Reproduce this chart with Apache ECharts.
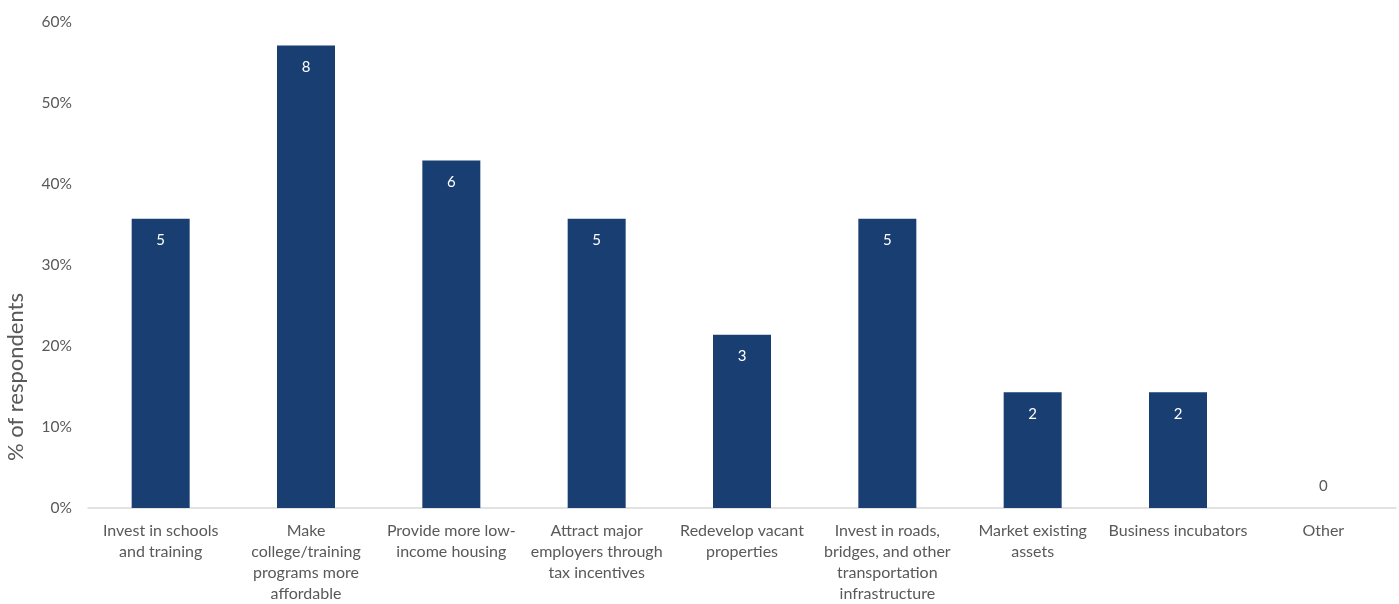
<!DOCTYPE html>
<html>
<head>
<meta charset="utf-8">
<script src="https://cdn.jsdelivr.net/npm/echarts@6/dist/echarts.min.js"></script>
<style>
html,body{margin:0;padding:0;background:#fff;}
#chart{width:1399px;height:604px;}
</style>
</head>
<body>
<div id="chart"></div>
<script>
var categories = [
  "Invest in schools\nand training",
  "Make\ncollege/training\nprograms more\naffordable",
  "Provide more low-\nincome housing",
  "Attract major\nemployers through\ntax incentives",
  "Redevelop vacant\nproperties",
  "Invest in roads,\nbridges, and other\ntransportation\ninfrastructure",
  "Market existing\nassets",
  "Business incubators",
  "Other"
];
var percentValues = [35.7, 57.1, 42.9, 35.7, 21.4, 35.7, 14.3, 14.3, 0];
var countLabels = [5, 8, 6, 5, 3, 5, 2, 2, 0];
var yTickMax = 60;
var yTickStep = 10;
var yAxisTitle = "% of respondents";

var FONT = "Lato, 'Open Sans', sans-serif";
var chart = echarts.init(document.getElementById('chart'));

var seriesData = percentValues.map(function (v, i) {
  var item = { value: v };
  if (v === 0) {
    item.label = { position: 'top', distance: 14, color: '#595959' };
  }
  return item;
});

chart.setOption({
  animation: false,
  grid: { left: 88, right: 3, top: 22, bottom: 90, containLabel: false },
  graphic: [{
    type: 'text',
    left: 5,
    top: 293,
    rotation: Math.PI / 2,
    style: {
      text: yAxisTitle,
      font: '22px ' + FONT,
      fill: '#595959'
    }
  }],
  xAxis: {
    type: 'category',
    data: categories,
    axisLine: { show: true, lineStyle: { color: '#d9d9d9', width: 1.5 } },
    axisTick: { show: false },
    axisLabel: {
      interval: 0,
      margin: 12,
      color: '#595959',
      fontFamily: FONT,
      fontSize: 16,
      lineHeight: 21,
      align: 'center'
    }
  },
  yAxis: {
    type: 'value',
    min: 0,
    max: yTickMax,
    interval: yTickStep,
    axisLine: { show: false },
    axisTick: { show: false },
    splitLine: { show: false },
    axisLabel: {
      margin: 16,
      color: '#595959',
      fontFamily: FONT,
      fontSize: 15.5,
      formatter: '{value}%'
    }
  },
  series: [{
    type: 'bar',
    data: seriesData,
    barWidth: 58,
    itemStyle: { color: '#183e72' },
    label: {
      show: true,
      position: 'insideTop',
      distance: 14,
      color: '#ffffff',
      fontFamily: FONT,
      fontSize: 15,
      formatter: function (p) { return String(countLabels[p.dataIndex]); }
    }
  }]
});
</script>
</body>
</html>
